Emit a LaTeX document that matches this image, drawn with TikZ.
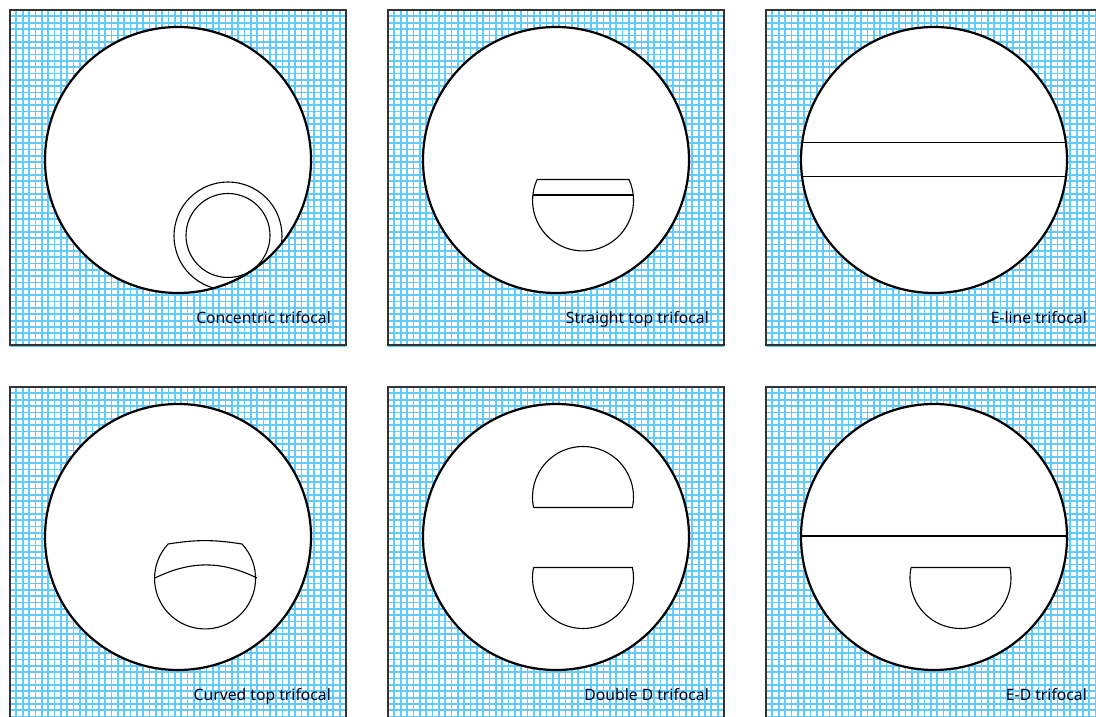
\documentclass[tikz,border=0pt]{standalone}
\usepackage{fontspec}
\setmainfont{Noto Sans}
\definecolor{gridblue}{HTML}{62CBFD}
\definecolor{edgegray}{HTML}{333333}
\tikzset{
  gridline/.style={draw=gridblue, line width=1.7pt},
  panelbox/.style={draw=edgegray, line width=1.5pt},
  lensrim/.style={draw=black, line width=2.2pt},
  segline/.style={draw=black, line width=1.1pt},
  segthick/.style={draw=black, line width=1.5pt},
  panellabel/.style={anchor=base east, inner sep=0pt, font=\fontsize{15.7}{18}\selectfont, text=black!90!blue}
}
% #1,#2 centre of the lens, #3 node name, #4 label, #5 segment lines
\newcommand{\lenspanel}[5]{
  \begin{scope}[shift={(#1,#2)}]
    \fill[white] (-168,-185) rectangle (168,150);
    \path[gridline] foreach \gx in {0,...,53} {(-168+\gx*6.34,-185) -- (-168+\gx*6.34,150)}
      foreach \gy in {0,...,53} {(-168,150-\gy*6.34) -- (168,150-\gy*6.34)};
    \path[panelbox] (-168,-185) rectangle (168,150);
    \fill[white] (0,0) circle (133);
    \begin{scope}
      \clip (0,0) circle (133);
      #5
    \end{scope}
    \path[lensrim] (0,0) circle (133);
    \node[panellabel] (#3) at (153,-163.2) {#4};
  \end{scope}
}
\newcommand{\ddown}[1]{
  \path[segline] (#1-49.4,-30.5) -- (#1+49.4,-30.5) arc[start angle=12,end angle=-192,radius=50.5] -- cycle;
}
\begin{document}
\begin{tikzpicture}[x=1pt,y=1pt]
  \clip (0,0) rectangle (1096,716);
  % top row
  \lenspanel{178}{556}{concentric}{Concentric trifocal}{
    \path[segline] (50,-76) circle (54);
    \path[segline] (50,-75.5) circle (42);
  }
  \lenspanel{556}{556}{straighttop}{Straight top trifocal}{
    \path[segline] (-19,-19.5) -- (73,-19.5) arc[start angle=24.5,end angle=-204.5,radius=50.5] -- cycle;
    \path[segthick] (-23.1,-35) -- (77.1,-35);
  }
  \lenspanel{934}{556}{eline}{E-line trifocal}{
    \path[segline] (-134,17.5) -- (134,17.5);
    \path[segline] (-134,-16.5) -- (134,-16.5);
  }
  % bottom row
  \lenspanel{178}{179}{curvedtop}{Curved top trifocal}{
    \path[segline] (-10,-7) to[bend left=9] (64,-7) arc[start angle=43,end angle=-223,radius=50.5];
    \path[segline] (-23,-41) to[bend left=26] (79,-41);
  }
  \lenspanel{556}{179}{doubled}{Double D trifocal}{
    \path[segline] (-22.4,29.5) -- (76.4,29.5) arc[start angle=-12,end angle=192,radius=50.5] -- cycle;
    \ddown{27}
  }
  \lenspanel{934}{179}{edtri}{E-D trifocal}{
    \path[segthick] (-134,1) -- (134,1);
    \ddown{26.5}
  }
\end{tikzpicture}
\end{document}
